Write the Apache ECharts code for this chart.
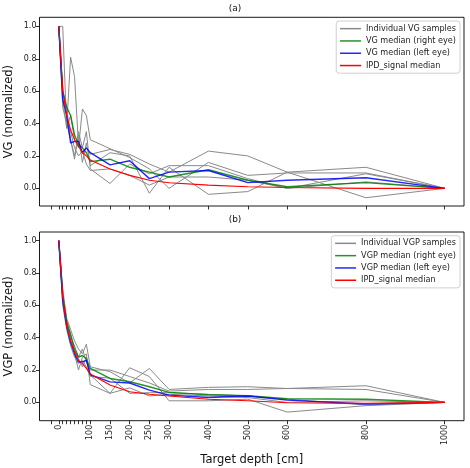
<!DOCTYPE html>
<html><head><meta charset="utf-8">
<script src="https://cdn.jsdelivr.net/npm/echarts@6/dist/echarts.min.js"></script>
<style>html,body{margin:0;padding:0;background:#fff}#c{width:470px;height:468px}</style>
</head><body><div id="c"></div>
<script>
// Target depths [cm]
const depths = [20, 30, 40, 50, 60, 70, 80, 90, 100, 150, 200, 250, 300, 400, 500, 600, 800, 1000];

// Panel (a): VG
const vgSample1 = [1.0, 1.0, 0.38, 0.81, 0.69, 0.27, 0.22, 0.25, 0.21, 0.24, 0.21, 0.15, 0.10, 0.23, 0.20, 0.10, 0.13, 0.0];
const vgSample2 = [1.0, 0.55, 0.37, 0.45, 0.30, 0.25, 0.49, 0.45, 0.30, 0.245, 0.19, 0.12, 0.0, 0.16, 0.08, 0.095, 0.095, 0.0];
const vgSample3 = [1.0, 0.60, 0.50, 0.30, 0.18, 0.35, 0.25, 0.35, 0.12, 0.03, 0.15, 0.09, 0.14, 0.14, 0.06, 0.0, 0.04, 0.0];
const vgSample4 = [1.0, 0.50, 0.40, 0.30, 0.20, 0.33, 0.16, 0.28, 0.14, 0.22, 0.20, -0.03, 0.13, -0.037, -0.02, 0.10, -0.058, 0.0];
const vgSample5 = [1.0, 0.62, 0.45, 0.35, 0.25, 0.20, 0.23, 0.15, 0.11, 0.12, 0.08, 0.02, 0.07, 0.07, 0.05, 0.0, 0.09, 0.0];
const vgRight = [1.0, 0.60, 0.50, 0.45, 0.33, 0.27, 0.25, 0.22, 0.165, 0.18, 0.13, 0.10, 0.07, 0.115, 0.05, 0.01, 0.035, 0.0];
const vgLeft = [1.0, 0.55, 0.45, 0.28, 0.29, 0.29, 0.22, 0.25, 0.22, 0.145, 0.17, 0.06, 0.10, 0.11, 0.035, 0.05, 0.065, 0.0];
const vgIpd = [1.0, 0.60, 0.45, 0.36, 0.30, 0.26, 0.22, 0.20, 0.175, 0.12, 0.08, 0.05, 0.035, 0.02, 0.01, 0.005, 0.0, 0.0];

// Panel (b): VGP
const vgpSample1 = [1.0, 0.70, 0.52, 0.45, 0.38, 0.33, 0.30, 0.36, 0.22, 0.19, 0.12, 0.21, 0.08, 0.093, 0.097, 0.086, 0.103, 0.0];
const vgpSample2 = [1.0, 0.68, 0.50, 0.40, 0.35, 0.28, 0.33, 0.25, 0.20, 0.20, 0.16, 0.12, 0.07, 0.08, 0.08, 0.086, 0.08, 0.0];
const vgpSample3 = [1.0, 0.65, 0.48, 0.42, 0.30, 0.20, 0.28, 0.30, 0.11, 0.056, 0.214, 0.16, 0.01, 0.01, 0.02, -0.06, -0.02, 0.0];
const vgpSample4 = [1.0, 0.60, 0.45, 0.35, 0.28, 0.24, 0.26, 0.22, 0.16, 0.15, 0.056, 0.06, 0.06, 0.05, 0.04, 0.02, -0.016, 0.0];
const vgpSample5 = [1.0, 0.66, 0.47, 0.38, 0.32, 0.27, 0.22, 0.28, 0.17, 0.056, 0.09, 0.04, 0.05, 0.04, 0.03, 0.0, 0.01, 0.0];
const vgpRight = [1.0, 0.66, 0.50, 0.42, 0.33, 0.28, 0.29, 0.27, 0.21, 0.148, 0.128, 0.097, 0.062, 0.047, 0.041, 0.023, 0.02, 0.0];
const vgpLeft = [1.0, 0.63, 0.47, 0.37, 0.30, 0.25, 0.25, 0.26, 0.17, 0.127, 0.12, 0.076, 0.045, 0.03, 0.04, 0.014, -0.01, 0.0];
const vgpIpd = [1.0, 0.65, 0.47, 0.38, 0.31, 0.26, 0.24, 0.21, 0.175, 0.107, 0.066, 0.05, 0.04, 0.02, 0.01, -0.002, -0.006, 0.0];

// Ticks
const xTickValues = [0, 20, 30, 40, 50, 60, 70, 80, 90, 100, 150, 200, 250, 300, 400, 500, 600, 800, 1000];
const xLabelValues = [20, 100, 150, 200, 250, 300, 400, 500, 600, 800, 1000];
const xLabelTexts = ['0', '100', '150', '200', '250', '300', '400', '500', '600', '800', '1000'];
const yTickValues = [0, 0.2, 0.4, 0.6, 0.8, 1.0];

const FONT = 'DejaVu Sans';
const pts = arr => depths.map((d, i) => [d, arr[i]]);

function xAxisCfg(idx, showLabels, name) {
  return {
    type: 'value', gridIndex: idx, min: -29, max: 1049,
    name: name || '', nameLocation: 'middle', nameGap: 33, nameMoveOverlap: false,
    nameTextStyle: { fontFamily: FONT, fontSize: 11.5, color: '#111' },
    axisLine: { show: false, onZero: false },
    axisTick: { show: true, customValues: xTickValues, length: 3.5, inside: false, lineStyle: { color: '#000', width: 0.8 } },
    axisLabel: {
      show: showLabels, customValues: xLabelValues, rotate: 90, margin: 4,
      fontFamily: FONT, fontSize: 8, color: '#222',
      formatter: v => { const k = xLabelValues.indexOf(v); return k >= 0 ? xLabelTexts[k] : ''; }
    },
    splitLine: { show: false }
  };
}
function yAxisCfg(idx, min, max, name) {
  return {
    type: 'value', gridIndex: idx, min: min, max: max,
    name: name, nameLocation: 'middle', nameGap: 24, nameMoveOverlap: false,
    nameTextStyle: { fontFamily: FONT, fontSize: 11.5, color: '#111' },
    axisLine: { show: false, onZero: false },
    axisTick: { show: true, customValues: yTickValues, length: 3.5, lineStyle: { color: '#000', width: 0.8 } },
    axisLabel: { customValues: yTickValues, margin: 3, fontFamily: FONT, fontSize: 8, color: '#222', formatter: v => v.toFixed(1) },
    splitLine: { show: false }
  };
}

const GRAY = { color: '#8a8a8a', width: 1 };
function line(name, arr, idx, style, z) {
  return {
    type: 'line', name: name, xAxisIndex: idx, yAxisIndex: idx, data: pts(arr),
    symbol: 'none', smooth: false, lineStyle: style, itemStyle: { color: style.color }, z: z, animation: false
  };
}

const topSamples = [vgSample1, vgSample2, vgSample3, vgSample4, vgSample5];
const botSamples = [vgpSample1, vgpSample2, vgpSample3, vgpSample4, vgpSample5];

const series = [];
topSamples.forEach(s => series.push(line('Individual VG samples', s, 0, GRAY, 2)));
series.push(line('VG median (right eye)', vgRight, 0, { color: 'rgba(0,128,0,0.85)', width: 1.4 }, 3));
series.push(line('VG median (left eye)', vgLeft, 0, { color: 'rgba(0,0,255,0.85)', width: 1.4 }, 4));
series.push(line('IPD_signal median', vgIpd, 0, { color: '#ff0000', width: 1.1 }, 5));
botSamples.forEach(s => series.push(line('Individual VGP samples', s, 1, GRAY, 2)));
series.push(line('VGP median (right eye)', vgpRight, 1, { color: 'rgba(0,128,0,0.85)', width: 1.4 }, 3));
series.push(line('VGP median (left eye)', vgpLeft, 1, { color: 'rgba(0,0,255,0.85)', width: 1.4 }, 4));
series.push(line('IPD_signal median ', vgpIpd, 1, { color: '#ff0000', width: 1.1 }, 5));

function legendCfg(top, names) {
  return {
    orient: 'vertical', right: 10, top: top, data: names,
    padding: [3, 4, 3, 3], itemGap: 3, itemWidth: 21, itemHeight: 8,
    borderColor: '#d0d0d0', borderWidth: 1, borderRadius: 3,
    backgroundColor: 'rgba(255,255,255,0.85)',
    itemStyle: { opacity: 0 },
    lineStyle: { width: 1.5 },
    textStyle: { fontFamily: FONT, fontSize: 8.1, color: '#222', lineHeight: 9.3 },
    formatter: n => n.trim()
  };
}

const gridCommon = { left: 39.5, width: 424.5, height: 188.7, show: true, borderColor: '#000', borderWidth: 0.9, containLabel: false, outerBoundsMode: 'none' };

const chart = echarts.init(document.getElementById('c'), null, { renderer: 'canvas' });
chart.setOption({
  animation: false,
  backgroundColor: '#fff',
  title: [
    { text: '(a)', left: 'center', top: 4.5, padding: 0, textStyle: { fontFamily: FONT, fontSize: 9, fontWeight: 'normal', color: '#111' } },
    { text: '(b)', left: 'center', top: 215.5, padding: 0, textStyle: { fontFamily: FONT, fontSize: 9, fontWeight: 'normal', color: '#111' } }
  ],
  grid: [
    Object.assign({ top: 17.3 }, gridCommon),
    Object.assign({ top: 232 }, gridCommon)
  ],
  xAxis: [xAxisCfg(0, false), xAxisCfg(1, true, 'Target depth [cm]')],
  yAxis: [yAxisCfg(0, -0.109, 1.056, 'VG (normalized)'), yAxisCfg(1, -0.113, 1.053, 'VGP (normalized)')],
  legend: [
    legendCfg(21, ['Individual VG samples', 'VG median (right eye)', 'VG median (left eye)', 'IPD_signal median']),
    legendCfg(235.7, ['Individual VGP samples', 'VGP median (right eye)', 'VGP median (left eye)', 'IPD_signal median '])
  ],
  series: series
});
</script></body></html>
